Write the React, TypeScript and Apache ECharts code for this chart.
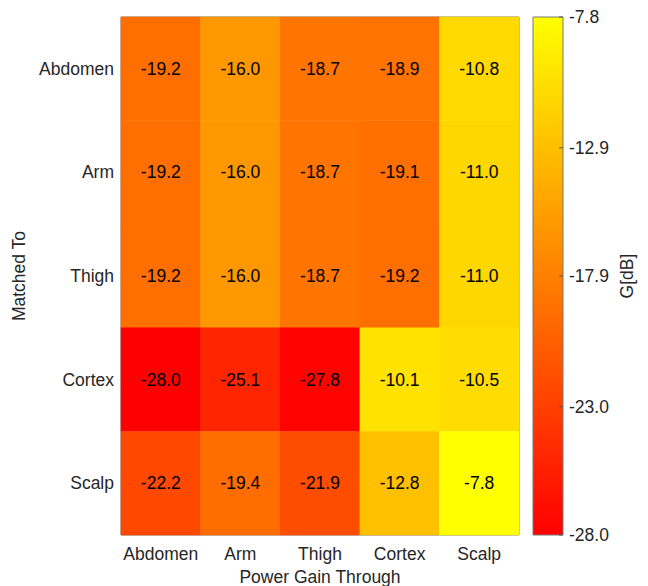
import React, { useEffect, useRef } from "react";
import * as echarts from "echarts";

const gainThrough = ["Abdomen", "Arm", "Thigh", "Cortex", "Scalp"];
const matchedTo = ["Abdomen", "Arm", "Thigh", "Cortex", "Scalp"];

const rowAbdomen = [-19.2, -16.0, -18.7, -18.9, -10.8];
const rowArm = [-19.2, -16.0, -18.7, -19.1, -11.0];
const rowThigh = [-19.2, -16.0, -18.7, -19.2, -11.0];
const rowCortex = [-28.0, -25.1, -27.8, -10.1, -10.5];
const rowScalp = [-22.2, -19.4, -21.9, -12.8, -7.8];

const colorMin = -28.0;
const colorMax = -7.8;
const colorbarTicks = [-7.8, -12.9, -17.9, -23.0, -28.0];

const FONT = "Arial, 'Liberation Sans', Helvetica, sans-serif";
const FS = 17.5;

export default function App() {
  const ref = useRef<HTMLDivElement>(null);
  useEffect(() => {
    if (!ref.current) return;
    const chart = echarts.init(ref.current, null, { renderer: "svg" });
    const rows = [rowAbdomen, rowArm, rowThigh, rowCortex, rowScalp];
    const data: number[][] = [];
    rows.forEach((r, yi) => r.forEach((v, xi) => data.push([xi, yi, v])));

    const gridLeft = 121;
    const gridTop = 17;
    const gridW = 398;
    const gridH = 518;
    const cbX = 533;
    const cbW = 30;

    const graphics: any[] = [
      {
        type: "rect",
        shape: { x: cbX, y: gridTop, width: cbW, height: gridH },
        style: {
          fill: new echarts.graphic.LinearGradient(0, 0, 0, 1, [
            { offset: 0, color: "#ffff00" },
            { offset: 1, color: "#ff0000" },
          ]),
          stroke: "#777777",
          lineWidth: 1,
        },
      },
      {
        type: "text",
        x: 627,
        y: gridTop + gridH / 2,
        rotation: Math.PI / 2,
        style: {
          text: "G[dB]",
          font: `${FS}px ${FONT}`,
          fill: "#262626",
          align: "center",
          verticalAlign: "middle",
        },
      },
    ];
    colorbarTicks.forEach((t) => {
      const y = gridTop + ((colorMax - t) / (colorMax - colorMin)) * gridH;
      graphics.push({
        type: "line",
        shape: { x1: cbX + cbW - 4, y1: y, x2: cbX + cbW, y2: y },
        style: { stroke: "#555555", lineWidth: 1 },
      });
      graphics.push({
        type: "text",
        x: 569,
        y: y,
        style: {
          text: t.toFixed(1),
          font: `${FS}px ${FONT}`,
          fill: "#262626",
          align: "left",
          verticalAlign: "middle",
        },
      });
    });

    chart.setOption({
      animation: false,
      grid: {
        left: gridLeft,
        top: gridTop,
        width: gridW,
        height: gridH,
        show: true,
        borderColor: "#777777",
        borderWidth: 1,
        backgroundColor: "transparent",
        containLabel: false,
        outerBoundsMode: "none",
      },
      xAxis: {
        type: "category",
        data: gainThrough,
        name: "Power Gain Through",
        nameLocation: "middle",
        nameGap: 32,
        nameTextStyle: { fontSize: FS, fontFamily: FONT, color: "#262626" },
        axisLine: { show: false },
        axisTick: { show: false },
        splitLine: { show: false },
        axisLabel: { interval: 0, fontSize: FS, fontFamily: FONT, color: "#262626", margin: 10 },
      },
      yAxis: {
        type: "category",
        data: matchedTo,
        inverse: true,
        name: "Matched To",
        nameLocation: "middle",
        nameGap: 86,
        nameTextStyle: { fontSize: FS, fontFamily: FONT, color: "#262626" },
        axisLine: { show: false },
        axisTick: { show: false },
        splitLine: { show: false },
        axisLabel: { interval: 0, fontSize: FS, fontFamily: FONT, color: "#262626", margin: 7 },
      },
      visualMap: {
        show: false,
        type: "continuous",
        min: colorMin,
        max: colorMax,
        dimension: 2,
        seriesIndex: 0,
        inRange: { color: ["#ff0000", "#ffff00"] },
      },
      series: [
        {
          type: "heatmap",
          data,
          label: {
            show: true,
            fontSize: FS,
            fontFamily: FONT,
            color: "#000000",
            formatter: (p: any) => (p.value[2] as number).toFixed(1),
          },
          itemStyle: { borderWidth: 0 },
          emphasis: { disabled: true },
        },
      ],
      graphic: graphics,
    });
    return () => chart.dispose();
  }, []);
  return (
    <div
      ref={ref}
      style={{ position: "fixed", left: 0, top: 0, width: 648, height: 586, background: "#ffffff" }}
    />
  );
}
